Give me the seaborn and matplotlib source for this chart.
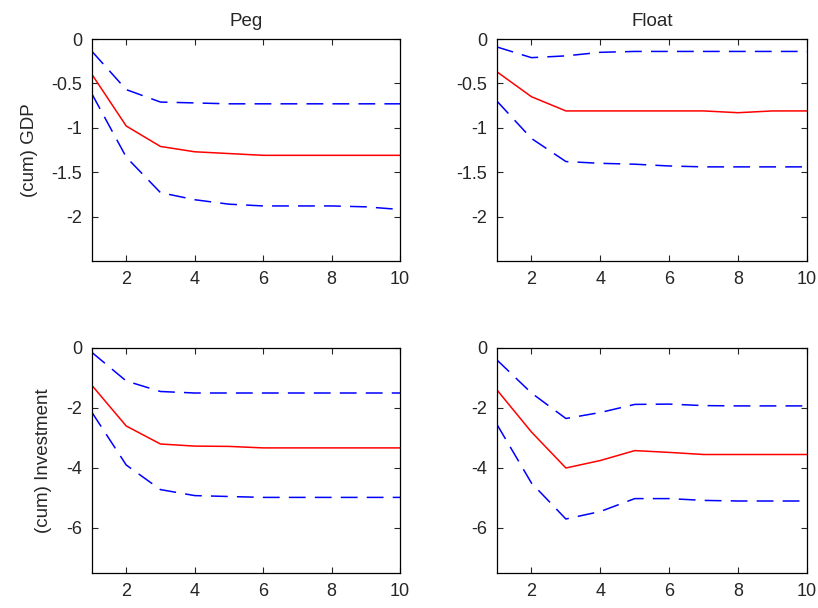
import numpy as np
import pandas as pd
import matplotlib
matplotlib.use('Agg')
import matplotlib.pyplot as plt
import seaborn as sns

sns.set_style('ticks')
plt.rcParams['font.family'] = ['Liberation Sans', 'DejaVu Sans']
plt.rcParams['font.size'] = 13

horizon = list(range(1, 11))

# cumulative GDP response, peg
peg_gdp_med = [-0.40, -0.98, -1.21, -1.27, -1.29, -1.31, -1.31, -1.31, -1.31, -1.31]
peg_gdp_up = [-0.14, -0.57, -0.71, -0.72, -0.73, -0.73, -0.73, -0.73, -0.73, -0.73]
peg_gdp_lo = [-0.62, -1.33, -1.73, -1.81, -1.86, -1.88, -1.88, -1.88, -1.89, -1.92]

# cumulative GDP response, float
flt_gdp_med = [-0.37, -0.65, -0.81, -0.81, -0.81, -0.81, -0.81, -0.83, -0.81, -0.81]
flt_gdp_up = [-0.09, -0.21, -0.19, -0.15, -0.14, -0.14, -0.14, -0.14, -0.14, -0.14]
flt_gdp_lo = [-0.70, -1.12, -1.38, -1.40, -1.41, -1.43, -1.44, -1.44, -1.44, -1.44]

# cumulative investment response, peg
peg_inv_med = [-1.25, -2.60, -3.20, -3.27, -3.28, -3.33, -3.33, -3.33, -3.33, -3.33]
peg_inv_up = [-0.15, -1.10, -1.45, -1.50, -1.50, -1.50, -1.50, -1.50, -1.50, -1.50]
peg_inv_lo = [-2.15, -3.90, -4.72, -4.92, -4.95, -4.98, -4.98, -4.98, -4.98, -4.98]

# cumulative investment response, float
flt_inv_med = [-1.40, -2.80, -4.00, -3.75, -3.42, -3.48, -3.55, -3.55, -3.55, -3.55]
flt_inv_up = [-0.40, -1.50, -2.35, -2.15, -1.88, -1.87, -1.92, -1.93, -1.93, -1.93]
flt_inv_lo = [-2.55, -4.50, -5.70, -5.45, -5.02, -5.02, -5.08, -5.10, -5.10, -5.10]

panels = [
    (peg_gdp_med, peg_gdp_up, peg_gdp_lo, 'Peg', '(cum) GDP', (-2.5, 0), [-2, -1.5, -1, -0.5, 0], ['-2', '-1.5', '-1', '-0.5', '0']),
    (flt_gdp_med, flt_gdp_up, flt_gdp_lo, 'Float', None, (-2.5, 0), [-2, -1.5, -1, -0.5, 0], ['-2', '-1.5', '-1', '-0.5', '0']),
    (peg_inv_med, peg_inv_up, peg_inv_lo, None, '(cum) Investment', (-7.5, 0), [-6, -4, -2, 0], ['-6', '-4', '-2', '0']),
    (flt_inv_med, flt_inv_up, flt_inv_lo, None, None, (-7.5, 0), [-6, -4, -2, 0], ['-6', '-4', '-2', '0']),
]

W, H = 818, 608
boxes = [(92, 39, 400, 261), (497, 39, 807, 261), (92, 348, 400, 573), (497, 348, 807, 573)]

fig = plt.figure(figsize=(W / 100, H / 100), dpi=100)
for (med, up, lo, title, ylab, ylim, yt, ytl), (x0, y0, x1, y1) in zip(panels, boxes):
    ax = fig.add_axes([x0 / W, 1 - y1 / H, (x1 - x0) / W, (y1 - y0) / H])
    sns.lineplot(x=horizon, y=med, color='#ff0000', lw=1.1, ax=ax)
    sns.lineplot(x=horizon, y=up, color='#0000ff', lw=1.1, ax=ax, dashes=False)
    sns.lineplot(x=horizon, y=lo, color='#0000ff', lw=1.1, ax=ax, dashes=False)
    for ln in ax.lines[1:]:
        ln.set_dashes((11, 6))
    ax.set_xlim(1, 10)
    ax.set_ylim(*ylim)
    ax.set_xticks([2, 4, 6, 8, 10])
    ax.set_yticks(yt)
    ax.set_yticklabels(ytl)
    ax.tick_params(direction='in', top=True, right=True, length=4, width=0.8, labelsize=13, pad=7)
    for s in ax.spines.values():
        s.set_linewidth(0.9)
        s.set_color('black')
    if title:
        ax.set_title(title, fontsize=13.5, pad=9)
    if ylab:
        ax.set_ylabel(ylab, fontsize=13.5, labelpad=10)

fig.savefig('out.png', dpi=100, facecolor='white')
